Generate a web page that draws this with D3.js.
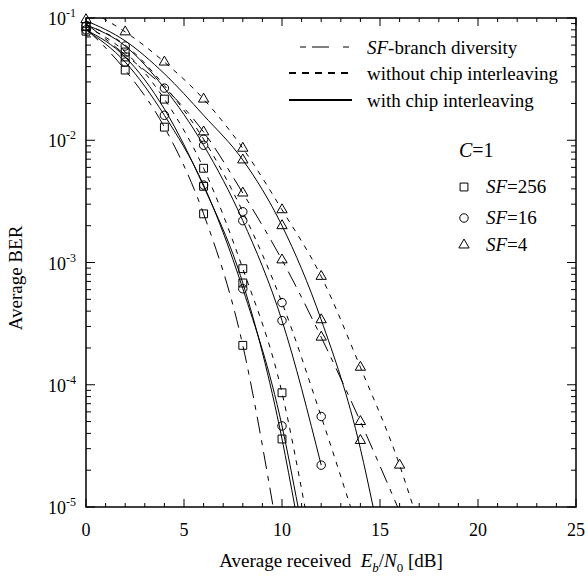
<!DOCTYPE html>
<html>
<head>
<meta charset="utf-8">
<script src="https://cdn.jsdelivr.net/npm/d3@7"></script>
<style>
  body { margin: 0; background: #fff; }
  text { font-family: "Liberation Serif", "Times New Roman", serif; fill: #000; }
</style>
</head>
<body>
<svg id="chart" width="588" height="576"></svg>
<script>
// x values are Eb/N0 in dB, y values are average BER

// SF-branch diversity (long dash)
var div256X = [0, 2, 4, 6, 8, 9.55];
var div256Y = [0.082, 0.0375, 0.0128, 2.5e-3, 2.1e-4, 1e-5];
var div4X = [0, 2, 4, 6, 8, 10, 12, 14, 15.9];
var div4Y = [0.09, 0.05, 0.027, 0.0117, 3.7e-3, 1.05e-3, 2.45e-4, 5.0e-5, 1e-5];

// without chip interleaving (short dash)
var wo256X = [0, 2, 4, 6, 8, 10, 11.17];
var wo256Y = [0.085, 0.0527, 0.0217, 5.9e-3, 8.9e-4, 8.6e-5, 1e-5];
var wo16X = [0, 2, 4, 6, 8, 10, 12, 13.5];
var wo16Y = [0.088, 0.06, 0.028, 0.0102, 2.6e-3, 4.7e-4, 5.5e-5, 1e-5];
var wo4X = [0.85, 2, 4, 6, 8, 10, 12, 14, 16, 16.7];
var wo4Y = [0.1, 0.077, 0.0436, 0.0217, 8.6e-3, 2.7e-3, 7.7e-4, 1.39e-4, 2.2e-5, 1e-5];

// with chip interleaving (solid)
var wi256X = [0, 2, 4, 6, 8, 10, 10.66];
var wi256Y = [0.08, 0.048, 0.018, 4.2e-3, 6.8e-4, 3.6e-5, 1e-5];
var wi16X = [0, 2, 4, 6, 8, 10, 12];
var wi16Y = [0.088, 0.059, 0.0267, 9.1e-3, 2.2e-3, 3.35e-4, 2.2e-5];
var wi16bX = [0, 2, 4, 6, 8, 10, 10.82];
var wi16bY = [0.08, 0.0436, 0.016, 4.3e-3, 6.1e-4, 4.6e-5, 1e-5];
var wi4X = [0, 2, 4, 6, 8, 10, 12, 14, 14.65];
var wi4Y = [0.095, 0.065, 0.035, 0.016, 6.9e-3, 2.0e-3, 3.4e-4, 3.0e-5, 1e-5];

// simulated points
var sqX = [0, 2, 4, 6, 8, 10, 0, 2, 4, 6, 8, 2, 6, 8, 10];
var sqY = [0.085, 0.0527, 0.0217, 5.9e-3, 8.9e-4, 8.6e-5, 0.078, 0.0375, 0.0128, 2.5e-3, 2.1e-4, 0.048, 4.2e-3, 6.8e-4, 3.6e-5];
var ciX = [0, 2, 4, 6, 8, 10, 12, 6, 8, 10, 12, 0, 2, 4, 6, 8, 10];
var ciY = [0.086, 0.059, 0.0267, 0.0102, 2.6e-3, 4.7e-4, 5.5e-5, 9.1e-3, 2.2e-3, 3.35e-4, 2.2e-5, 0.08, 0.0436, 0.016, 4.3e-3, 6.1e-4, 4.6e-5];
var trX = [0, 2, 4, 6, 8, 10, 12, 14, 16, 6, 8, 10, 12, 14, 8, 10, 12, 14];
var trY = [0.097, 0.077, 0.0436, 0.0217, 8.6e-3, 2.7e-3, 7.7e-4, 1.39e-4, 2.2e-5, 0.0117, 6.9e-3, 2.0e-3, 3.4e-4, 3.5e-5, 3.7e-3, 1.05e-3, 2.45e-4, 5.0e-5];

var xTicks = [0, 5, 10, 15, 20, 25];
var yTicks = [1e-1, 1e-2, 1e-3, 1e-4, 1e-5];
var yTickLabels = ["-1", "-2", "-3", "-4", "-5"];

var pl = 86, pr = 576, pt = 18, pb = 507;
var longDash = "17,7,5,7";
var shortDash = "5,6";

var svg = d3.select("#chart");

var x = d3.scaleLinear().domain([0, 25]).range([pl, pr]);
var y = d3.scaleLog().domain([1e-5, 1e-1]).range([pb, pt]);

svg.append("defs").append("clipPath").attr("id", "plot")
  .append("rect")
  .attr("x", pl).attr("y", pt)
  .attr("width", pr - pl).attr("height", pb - pt);

var line = d3.line()
  .x(d => x(d[0]))
  .y(d => y(d[1]))
  .curve(d3.curveMonotoneX);

var curves = [
  [div256X, div256Y, longDash],
  [div4X, div4Y, longDash],
  [wo256X, wo256Y, shortDash],
  [wo16X, wo16Y, shortDash],
  [wo4X, wo4Y, shortDash],
  [wi256X, wi256Y, null],
  [wi16X, wi16Y, null],
  [wi16bX, wi16bY, null],
  [wi4X, wi4Y, null]
];

var g = svg.append("g").attr("clip-path", "url(#plot)");

g.selectAll(".curve")
  .data(curves)
  .enter().append("path")
  .attr("class", "curve")
  .attr("d", d => line(d3.zip(d[0], d[1])))
  .attr("fill", "none")
  .attr("stroke", "#000")
  .attr("stroke-width", 1)
  .attr("stroke-dasharray", d => d[2]);

// markers
var sq = d3.symbol().type(d3.symbolSquare).size(62);
var ci = d3.symbol().type(d3.symbolCircle).size(56);
var tr = d3.symbol().type(d3.symbolTriangle).size(46);

function drawMarks(xs, ys, sym) {
  svg.append("g").selectAll("path")
    .data(d3.zip(xs, ys))
    .enter().append("path")
    .attr("d", sym)
    .attr("transform", d => "translate(" + x(d[0]) + "," + y(d[1]) + ")")
    .attr("fill", "none")
    .attr("stroke", "#000")
    .attr("stroke-width", 1);
}
drawMarks(sqX, sqY, sq);
drawMarks(ciX, ciY, ci);
drawMarks(trX, trY, tr);

// frame
svg.append("rect")
  .attr("x", pl).attr("y", pt)
  .attr("width", pr - pl).attr("height", pb - pt)
  .attr("fill", "none").attr("stroke", "#000").attr("stroke-width", 1.5);

// ticks, inward on all four sides
var ticks = svg.append("g").attr("stroke", "#000").attr("stroke-width", 1);
d3.range(0, 26, 1).forEach(function(v) {
  var len = v % 5 == 0 ? 8 : 4;
  ticks.append("line").attr("x1", x(v)).attr("x2", x(v)).attr("y1", pb).attr("y2", pb - len);
  ticks.append("line").attr("x1", x(v)).attr("x2", x(v)).attr("y1", pt).attr("y2", pt + len);
});

var yAll = [1e-1];
[1e-5, 1e-4, 1e-3, 1e-2].forEach(function(dec) {
  d3.range(1, 10).forEach(function(m) { yAll.push(dec * m); });
});
yAll.forEach(function(v) {
  var major = yTicks.some(t => Math.abs(t - v) / t < 1e-6);
  var len = major ? 9 : 5;
  ticks.append("line").attr("x1", pl).attr("x2", pl + len).attr("y1", y(v)).attr("y2", y(v));
  ticks.append("line").attr("x1", pr).attr("x2", pr - len).attr("y1", y(v)).attr("y2", y(v));
});

// tick labels
svg.append("g").selectAll("text")
  .data(xTicks)
  .enter().append("text")
  .attr("x", d => x(d))
  .attr("y", 536)
  .attr("text-anchor", "middle")
  .attr("font-size", 18)
  .text(d => d);

var yl = svg.append("g").selectAll("text")
  .data(yTicks)
  .enter().append("text")
  .attr("x", 76)
  .attr("y", d => y(d) + 7)
  .attr("text-anchor", "end")
  .attr("font-size", 18);
yl.append("tspan").text("10");
yl.append("tspan").attr("dy", -8).attr("font-size", 12).text((d, i) => yTickLabels[i]);

// axis titles
svg.append("text")
  .attr("transform", "translate(22,278) rotate(-90)")
  .attr("text-anchor", "middle")
  .attr("font-size", 19)
  .text("Average BER");

var xt = svg.append("text")
  .attr("x", 331).attr("y", 567)
  .attr("text-anchor", "middle")
  .attr("font-size", 19);
xt.append("tspan").text("Average received\u00a0\u00a0");
xt.append("tspan").attr("font-style", "italic").text("E");
xt.append("tspan").attr("font-size", 13).attr("font-style", "italic").attr("dy", 5).text("b");
xt.append("tspan").attr("dy", -5).text("/");
xt.append("tspan").attr("font-style", "italic").text("N");
xt.append("tspan").attr("font-size", 13).attr("dy", 5).text("0");
xt.append("tspan").attr("dy", -5).text(" [dB]");

// legend: line styles
var legLines = [
  [300, 350, 47, "6,6,17,14", 1, "SF-branch diversity"],
  [289, 350, 73, "7,6", 2, "without chip interleaving"],
  [289, 352, 100, null, 2, "with chip interleaving"]
];
legLines.forEach(function(l) {
  svg.append("line")
    .attr("x1", l[0]).attr("x2", l[1]).attr("y1", l[2]).attr("y2", l[2])
    .attr("stroke", "#000").attr("stroke-width", l[4])
    .attr("stroke-dasharray", l[3]);
  var t = svg.append("text").attr("x", 367).attr("y", l[2] + 7).attr("font-size", 19);
  if (l[5].indexOf("SF") == 0) {
    t.append("tspan").attr("font-style", "italic").text("SF");
    t.append("tspan").text(l[5].slice(2));
  } else {
    t.text(l[5]);
  }
});

var ct = svg.append("text").attr("x", 459).attr("y", 157).attr("font-size", 20);
ct.append("tspan").attr("font-style", "italic").text("C");
ct.append("tspan").text("=1");

var legMarks = [[sq, 187, "=256"], [ci, 218, "=16"], [tr, 245, "=4"]];
legMarks.forEach(function(m) {
  svg.append("path").attr("d", m[0])
    .attr("transform", "translate(464," + m[1] + ")")
    .attr("fill", "none").attr("stroke", "#000");
  var t = svg.append("text").attr("x", 486).attr("y", m[1] + 6).attr("font-size", 19);
  t.append("tspan").attr("font-style", "italic").text("SF");
  t.append("tspan").text(m[2]);
});
</script>
</body>
</html>
